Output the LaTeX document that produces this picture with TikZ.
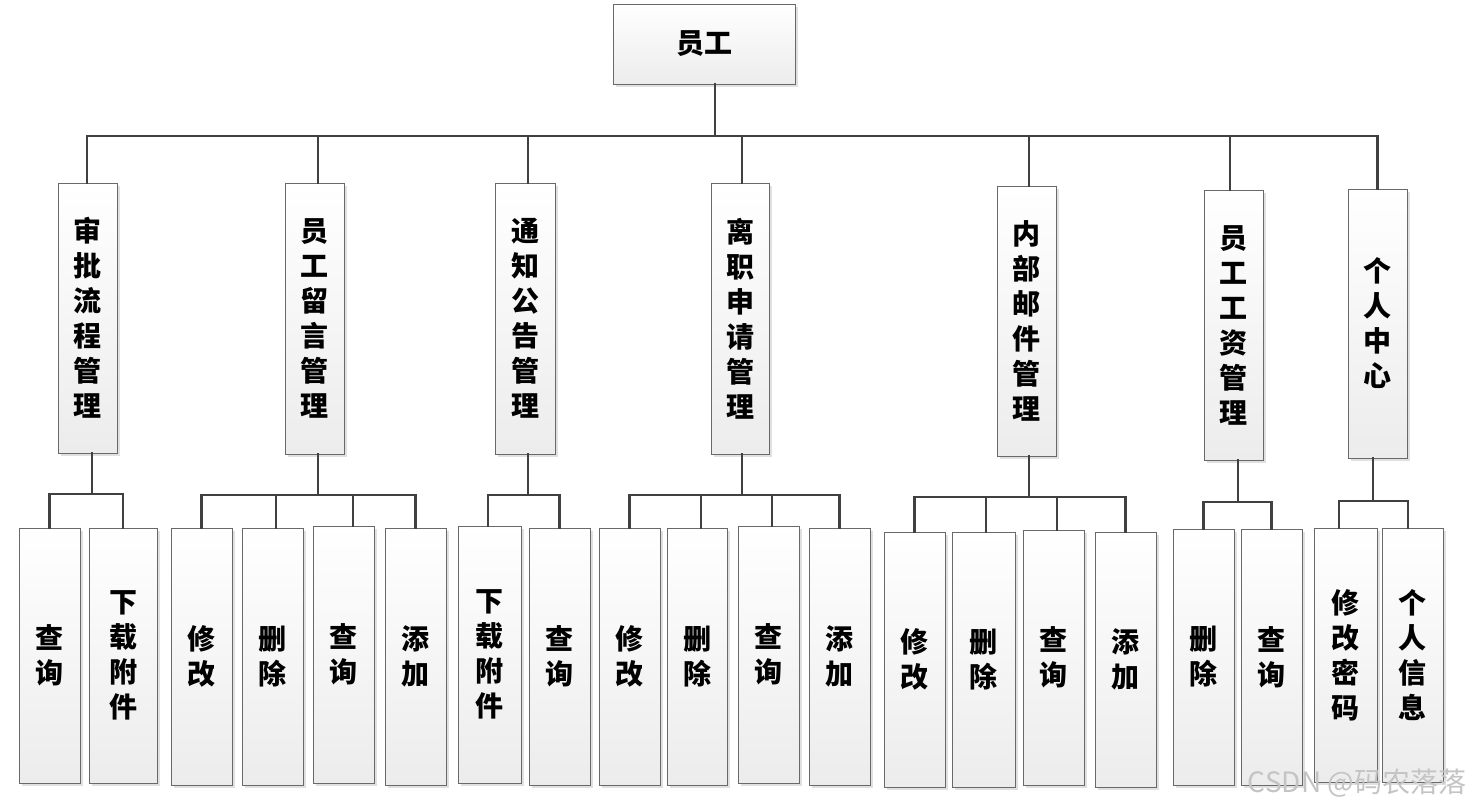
\documentclass[tikz,border=0pt]{standalone}
\usepackage{fontspec}
\newfontfamily\cjk{Noto Sans CJK SC}
\usetikzlibrary{shadows}
\definecolor{boxline}{RGB}{105,105,105}
\definecolor{connline}{RGB}{64,64,64}
\definecolor{boxbot}{RGB}{236,236,236}
\definecolor{wmcol}{RGB}{196,196,196}
\tikzset{
  box/.style={draw=boxline, line width=1pt, top color=white, bottom color=boxbot,
    inner sep=0pt, align=center, font=\cjk\bfseries\fontsize{28}{35}\selectfont,
    drop shadow={shadow xshift=3pt, shadow yshift=-3pt, fill=black!12, opacity=1}},
  conn/.style={draw=connline, line width=2.2pt, line cap=rect},
}
\newcommand\bx[5]{\node[box, minimum width=#3pt, minimum height=#4pt] (#1) at (#2) {#5};}
\newcommand\stub[4]{\coordinate (s-#1-#2) at ([xshift=#3pt]#1.#2);
  \draw[conn] (s-#1-#2) -- (s-#1-#2 |- #4);}
\begin{document}
\begin{tikzpicture}[x=1pt,y=-1pt]
\fill[white] (0,0) rectangle (1473,811);
\useasboundingbox (0,0) rectangle (1473,811);
% top
\bx{top}{704,44}{182}{80}{员工}
% middle level
\bx{m1}{87.5,318}{59}{270}{审\\批\\流\\程\\管\\理}
\bx{m2}{314.5,318.5}{59}{271}{员\\工\\留\\言\\管\\理}
\bx{m3}{525,318.5}{60}{271}{通\\知\\公\\告\\管\\理}
\bx{m4}{740,318.5}{58}{271}{离\\职\\申\\请\\管\\理}
\bx{m5}{1026.5,321}{59}{270}{内\\部\\邮\\件\\管\\理}
\bx{m6}{1233.5,325}{59}{270}{员\\工\\工\\资\\管\\理}
\bx{m7}{1377.5,323.5}{59}{269}{个\\人\\中\\心}
% leaves
\bx{l11}{49.5,655.5}{61}{255}{查\\询}
\bx{l12}{123,655.5}{68}{255}{下\\载\\附\\件}
\bx{l21}{201.5,656.5}{61}{257}{修\\改}
\bx{l22}{272.5,656.5}{61}{257}{删\\除}
\bx{l23}{343.5,654.5}{61}{257}{查\\询}
\bx{l24}{415.5,656.5}{61}{257}{添\\加}
\bx{l31}{489.5,654.5}{63}{257}{下\\载\\附\\件}
\bx{l32}{559.5,656.5}{61}{257}{查\\询}
\bx{l41}{629.5,656.5}{61}{257}{修\\改}
\bx{l42}{697,656.5}{60}{257}{删\\除}
\bx{l43}{768.5,654.5}{61}{257}{查\\询}
\bx{l44}{839.5,656.5}{61}{257}{添\\加}
\bx{l51}{914.5,659.5}{61}{255}{修\\改}
\bx{l52}{983.5,659.5}{63}{255}{删\\除}
\bx{l53}{1053.5,657.5}{61}{255}{查\\询}
\bx{l54}{1125.5,659.5}{61}{255}{添\\加}
\bx{l61}{1203.5,657}{61}{256}{删\\除}
\bx{l62}{1271.5,657}{61}{256}{查\\询}
\bx{l71}{1345.5,655}{63}{254}{修\\改\\密\\码}
\bx{l72}{1412.5,655}{61}{254}{个\\人\\信\\息}
% bus levels
\coordinate (bt) at (0,136);
\coordinate (b1) at (0,494);
\coordinate (b2) at (0,495);
\coordinate (b3) at (0,495);
\coordinate (b4) at (0,495);
\coordinate (b5) at (0,497);
\coordinate (b6) at (0,502);
\coordinate (b7) at (0,501);
% top level connectors
\stub{top}{south}{11}{bt}
\stub{m1}{north}{-0.5}{bt}
\stub{m2}{north}{3.5}{bt}
\stub{m3}{north}{3}{bt}
\stub{m4}{north}{2}{bt}
\stub{m5}{north}{2.5}{bt}
\stub{m6}{north}{-3.5}{bt}
\stub{m7}{north}{0}{bt}
\draw[conn] (s-m1-north |- bt) -- (s-m7-north |- bt);
% group 1
\stub{m1}{south}{4.5}{b1}
\stub{l11}{north}{0}{b1}
\stub{l12}{north}{0}{b1}
\draw[conn] (s-l11-north |- b1) -- (s-l12-north |- b1);
% group 2
\stub{m2}{south}{3.5}{b2}
\stub{l21}{north}{0}{b2}
\stub{l22}{north}{3.5}{b2}
\stub{l23}{north}{9.5}{b2}
\stub{l24}{north}{0}{b2}
\draw[conn] (s-l21-north |- b2) -- (s-l24-north |- b2);
% group 3
\stub{m3}{south}{3}{b3}
\stub{l31}{north}{-1.5}{b3}
\stub{l32}{north}{0}{b3}
\draw[conn] (s-l31-north |- b3) -- (s-l32-north |- b3);
% group 4
\stub{m4}{south}{2}{b4}
\stub{l41}{north}{0}{b4}
\stub{l42}{north}{4}{b4}
\stub{l43}{north}{3.5}{b4}
\stub{l44}{north}{0}{b4}
\draw[conn] (s-l41-north |- b4) -- (s-l44-north |- b4);
% group 5
\stub{m5}{south}{2.5}{b5}
\stub{l51}{north}{0}{b5}
\stub{l52}{north}{2.5}{b5}
\stub{l53}{north}{3.5}{b5}
\stub{l54}{north}{0}{b5}
\draw[conn] (s-l51-north |- b5) -- (s-l54-north |- b5);
% group 6
\stub{m6}{south}{4.5}{b6}
\stub{l61}{north}{0}{b6}
\stub{l62}{north}{0}{b6}
\draw[conn] (s-l61-north |- b6) -- (s-l62-north |- b6);
% group 7
\stub{m7}{south}{-4.5}{b7}
\stub{l71}{north}{-6.5}{b7}
\stub{l72}{north}{-4.5}{b7}
\draw[conn] (s-l71-north |- b7) -- (s-l72-north |- b7);
% watermark
\node[font=\cjk\fontsize{28}{30}\selectfont, text=wmcol, inner sep=0pt] (wm) at (1357,783) {CSDN @码农落落};
\end{tikzpicture}
\end{document}
